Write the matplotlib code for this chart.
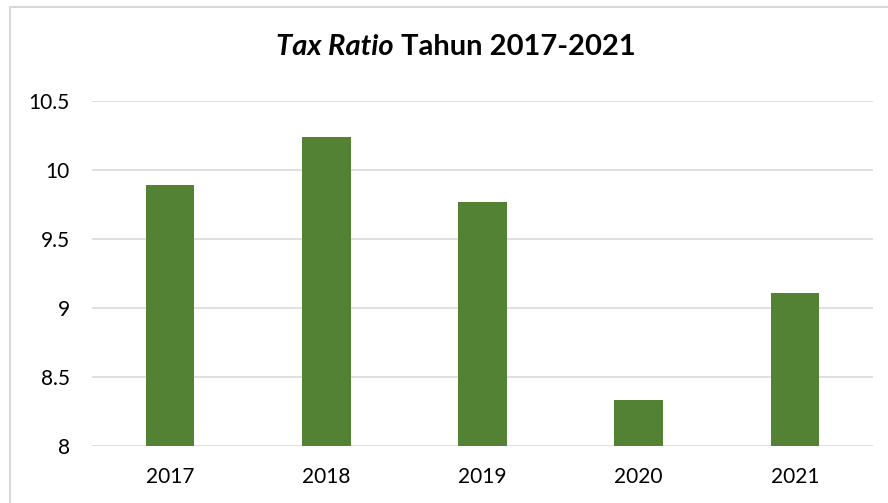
import numpy as np
import matplotlib
matplotlib.use("Agg")
import matplotlib.pyplot as plt
from matplotlib.patches import Rectangle

plt.rcParams['font.family'] = ['Lato', 'DejaVu Sans']

years = ['2017', '2018', '2019', '2020', '2021']
tax_ratio = [9.89, 10.24, 9.77, 8.33, 9.11]

fig = plt.figure(figsize=(8.88, 5.03), dpi=100)
# chart border (excel style, cut at right/bottom)
fig.patches.append(Rectangle((10/888, -0.1), 2, 0.1 + 496/503, transform=fig.transFigure,
                             fill=False, edgecolor='#d9d9d9', linewidth=1.5))

ax = fig.add_axes([92/888, 57/503, (873-92)/888, (446-101)/503])
x = np.arange(len(years))
ax.bar(x, tax_ratio, width=0.31, color='#548235', zorder=3)

ax.set_xlim(-0.5, len(years) - 0.5)
ax.set_ylim(8, 10.5)
ax.set_yticks([8, 8.5, 9, 9.5, 10, 10.5])
ax.set_yticklabels(['8', '8.5', '9', '9.5', '10', '10.5'])
ax.set_xticks(x)
ax.set_xticklabels(years)
ax.yaxis.grid(True, color='#d9d9d9', linewidth=1.2, zorder=0)
for s in ax.spines.values():
    s.set_visible(False)
ax.tick_params(length=0, labelsize=15, colors='#000000')
ax.tick_params(axis='y', pad=16)
ax.tick_params(axis='x', pad=15)

# title: italic part + regular bold part, centred together
ty = 1 - 47/503
t1 = fig.text(0, ty, 'Tax Ratio', ha='left', va='center',
              fontsize=21, fontweight='bold', fontstyle='italic')
t2 = fig.text(0, ty, ' Tahun 2017-2021', ha='left', va='center',
              fontsize=21, fontweight='bold')
r = fig.canvas.get_renderer()
w1 = t1.get_window_extent(r).width
w2 = t2.get_window_extent(r).width
x0 = 456 - (w1 + w2) / 2
t1.set_x(x0 / 888)
t2.set_x((x0 + w1) / 888)

fig.savefig('out.png', dpi=100)
